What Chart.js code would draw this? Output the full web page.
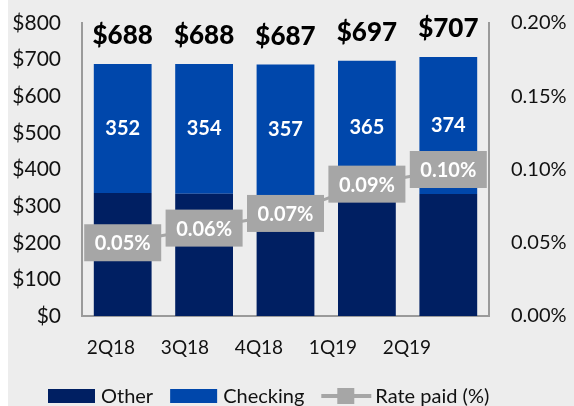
<!DOCTYPE html>
<html>
<head>
<meta charset="utf-8">
<script src="https://cdn.jsdelivr.net/npm/chart.js@4/dist/chart.umd.min.js"></script>
<style>
  html, body { margin: 0; padding: 0; background: #fff; }
  #wrap { width: 574px; height: 406px; }
</style>
</head>
<body>
<div id="wrap"><canvas id="c" width="574" height="406"></canvas></div>
<script>
const quarters = ["2Q18", "3Q18", "4Q18", "1Q19", "2Q19"];
const otherValues = [336, 334, 330, 332, 333];
const checkingValues = [352, 354, 357, 365, 374];
const totalValues = [688, 688, 687, 697, 707];
const ratePaid = [0.05, 0.06, 0.07, 0.09, 0.10];

const FONT = "Lato, 'Open Sans', sans-serif";
const GRAY = "#a6a6a6";
const AXIS = "#9a9a9a";

// background, with the thin white strip at the left edge
const bgPlugin = {
  id: "bg",
  beforeDraw(chart) {
    const { ctx, width, height } = chart;
    ctx.save();
    ctx.fillStyle = "#ededed";
    ctx.fillRect(8, 0, width - 8, height);
    ctx.restore();
  }
};

// totals above bars, checking values inside, rate boxes on the line
const labelPlugin = {
  id: "labels",
  afterDatasetsDraw(chart) {
    const { ctx } = chart;
    const checkMeta = chart.getDatasetMeta(1);
    const rateMeta = chart.getDatasetMeta(2);
    ctx.save();
    ctx.textAlign = "center";
    ctx.textBaseline = "middle";

    checkMeta.data.forEach((bar, i) => {
      ctx.font = `bold 20px ${FONT}`;
      ctx.fillStyle = "#fff";
      ctx.fillText(checkingValues[i], bar.x, (bar.y + bar.base) / 2);
      ctx.font = `900 26px ${FONT}`;
      ctx.fillStyle = "#000";
      ctx.fillText("$" + totalValues[i], bar.x, bar.y - 28);
    });

    rateMeta.data.forEach((pt, i) => {
      const w = 77, h = 37;
      ctx.fillStyle = GRAY;
      ctx.fillRect(pt.x - w / 2, pt.y - h / 2, w, h);
      ctx.font = `bold 20px ${FONT}`;
      ctx.fillStyle = "#fff";
      ctx.fillText(ratePaid[i].toFixed(2) + "%", pt.x, pt.y + 1);
    });
    ctx.restore();
  }
};

// legend at the bottom: boxes for bars, line + square for rate
const legendPlugin = {
  id: "bottomLegend",
  afterDraw(chart) {
    const { ctx } = chart;
    const y = 396;
    let x = 48;
    ctx.save();
    ctx.font = `20px ${FONT}`;
    ctx.textBaseline = "middle";
    ctx.textAlign = "left";
    chart.data.datasets.forEach(ds => {
      if (ds.type === "line") {
        ctx.strokeStyle = ds.borderColor;
        ctx.lineWidth = 4;
        ctx.beginPath();
        ctx.moveTo(x, y);
        ctx.lineTo(x + 50, y);
        ctx.stroke();
        ctx.fillStyle = ds.borderColor;
        ctx.fillRect(x + 16, y - 8, 17, 16);
        x += 54;
      } else {
        ctx.fillStyle = ds.backgroundColor;
        ctx.fillRect(x, y - 7, 47, 14);
        x += 53;
      }
      ctx.fillStyle = "#111";
      ctx.fillText(ds.label, x, y + 1);
      x += ctx.measureText(ds.label).width + 17;
    });
    ctx.restore();
  }
};

// stop the vertical axes from adding their tick padding above/below the plot
const noVPad = scale => { scale.paddingTop = 0; scale.paddingBottom = 0; };

new Chart(document.getElementById("c"), {
  data: {
    labels: quarters,
    datasets: [
      {
        type: "bar", label: "Other", data: otherValues,
        backgroundColor: "#001f62", stack: "s", yAxisID: "y",
        barPercentage: 0.71, categoryPercentage: 1, order: 2
      },
      {
        type: "bar", label: "Checking", data: checkingValues,
        backgroundColor: "#0047ab", stack: "s", yAxisID: "y",
        barPercentage: 0.71, categoryPercentage: 1, order: 2
      },
      {
        type: "line", label: "Rate paid (%)", data: ratePaid,
        borderColor: GRAY, backgroundColor: GRAY, borderWidth: 3,
        pointStyle: "rect", pointRadius: 6, yAxisID: "y2", order: 1
      }
    ]
  },
  options: {
    responsive: false,
    animation: false,
    layout: { padding: { top: 23, bottom: 0, left: 0, right: 0 } },
    plugins: { legend: { display: false }, tooltip: { enabled: false } },
    scales: {
      x: {
        stacked: true,
        grid: { display: false, drawTicks: false },
        border: { display: true, color: AXIS, width: 2 },
        ticks: { display: false },
        afterFit(scale) { scale.height = 0; }
      },
      // the category labels in the original sit on a tighter spacing than the bars
      xl: {
        type: "linear", position: "bottom", min: -0.392, max: 5.108,
        grid: { display: false, drawTicks: false },
        border: { display: false },
        afterBuildTicks(scale) {
          scale.ticks = quarters.map((q, i) => ({ value: i }));
        },
        ticks: {
          color: "#111", font: { family: FONT, size: 19 }, padding: 20,
          callback: v => quarters[v] ?? ""
        },
        afterFit(scale) { scale.height = 90; }
      },
      y: {
        stacked: true, position: "left", min: 0, max: 800,
        grid: { display: false, drawTicks: false },
        border: { display: true, color: AXIS, width: 2 },
        ticks: {
          stepSize: 100, padding: 21, color: "#111",
          font: { family: FONT, size: 21 },
          callback: v => "$" + v
        },
        afterFit(scale) { scale.width = 82; noVPad(scale); }
      },
      y2: {
        position: "right", min: 0, max: 0.2,
        grid: { display: false, drawTicks: false },
        border: { display: true, color: AXIS, width: 2 },
        ticks: {
          stepSize: 0.05, padding: 22, color: "#111",
          font: { family: FONT, size: 20 },
          callback: v => v.toFixed(2) + "%"
        },
        afterFit(scale) { scale.width = 85; noVPad(scale); }
      }
    }
  },
  plugins: [bgPlugin, labelPlugin, legendPlugin]
});
</script>
</body>
</html>
